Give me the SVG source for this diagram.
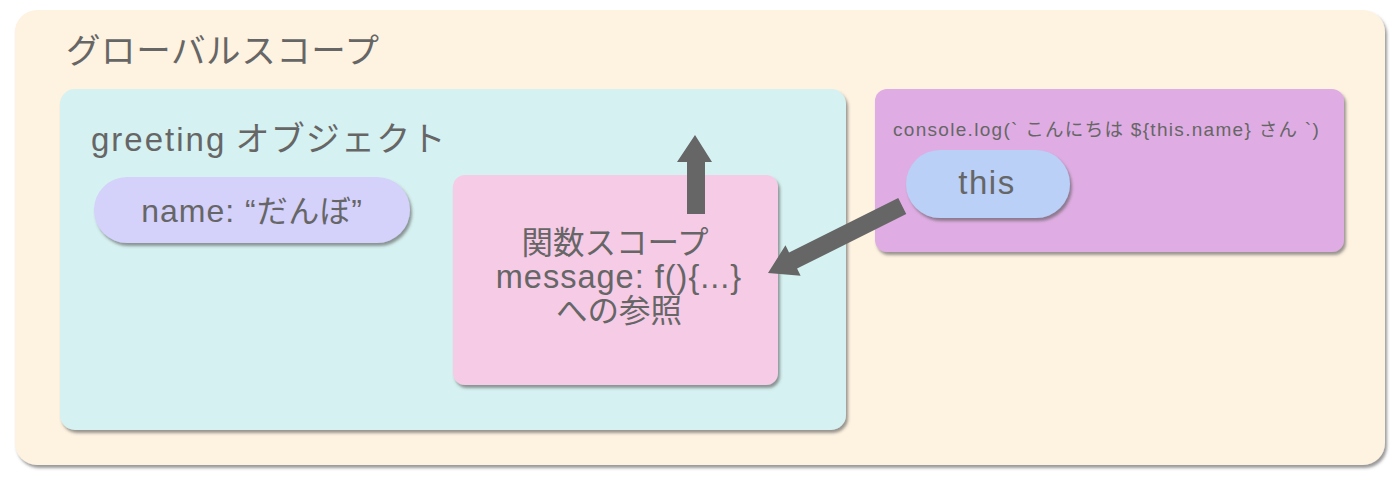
<svg xmlns="http://www.w3.org/2000/svg" width="1400" height="484" viewBox="0 0 1400 484">
<defs>
<filter id="sh" x="-5%" y="-5%" width="110%" height="115%">
<feDropShadow dx="2" dy="3" stdDeviation="1.5" flood-color="#555" flood-opacity="0.6"/>
</filter>
<style>
text{font-family:"Liberation Sans","Noto Sans CJK JP",sans-serif;fill:#666}
.c{text-anchor:middle}
.arr{fill:#666;stroke:none}
</style>
</defs>
<rect width="1400" height="484" fill="#ffffff"/>
<g id="global">
<rect x="15" y="10" width="1370" height="455" rx="22" fill="#fef2e1" filter="url(#sh)"/>
<text x="66" y="63" font-size="34.5" letter-spacing="0.6">グローバルスコープ</text>
</g>
<g id="greeting">
<rect x="60" y="89" width="786" height="341" rx="15" fill="#d6f1f1" filter="url(#sh)"/>
<text x="91" y="151" font-size="33" letter-spacing="2">greeting<tspan letter-spacing="0"> </tspan><tspan font-size="34" letter-spacing="1.2">オブジェクト</tspan></text>
</g>
<g id="name">
<rect x="94" y="177" width="316" height="66" rx="33" fill="#d4d1fa" filter="url(#sh)"/>
<text class="c" x="252" y="222" font-size="32" letter-spacing="1">name: “<tspan font-size="31" letter-spacing="0.5">だんぼ</tspan>”</text>
</g>
<g id="funcscope">
<rect x="453" y="175" width="325" height="210" rx="12" fill="#f6cbe6" filter="url(#sh)"/>
<text class="c" x="615" y="254" font-size="31.5">関数スコープ</text>
<text class="c" x="619" y="288" font-size="32.5" letter-spacing="1">message: f(){...}</text>
<text class="c" x="619" y="322" font-size="31.5">への参照</text>
</g>
<g id="console">
<rect x="875" y="89" width="469" height="163" rx="12" fill="#dfade3" filter="url(#sh)"/>
<text x="893" y="136" font-size="19" letter-spacing="1.3">console.log(` <tspan font-size="18.5">こんにちは</tspan> ${this.name} <tspan font-size="18.5">さん</tspan> `)</text>
</g>
<g id="this">
<rect x="906" y="150" width="164" height="68" rx="34" fill="#bad0f7" filter="url(#sh)"/>
<text class="c" x="987" y="194" font-size="33" letter-spacing="1.5">this</text>
</g>
<g id="connectors">
<polygon class="arr" points="687,214 705,214 705,162 712,162 695,135 677,162 687,162"/>
<g transform="translate(768,273) rotate(-26.5)">
<polygon class="arr" points="0,0 28,-17 28,-9 150,-9 150,9 28,9 28,17"/>
</g>
</g>
</svg>
